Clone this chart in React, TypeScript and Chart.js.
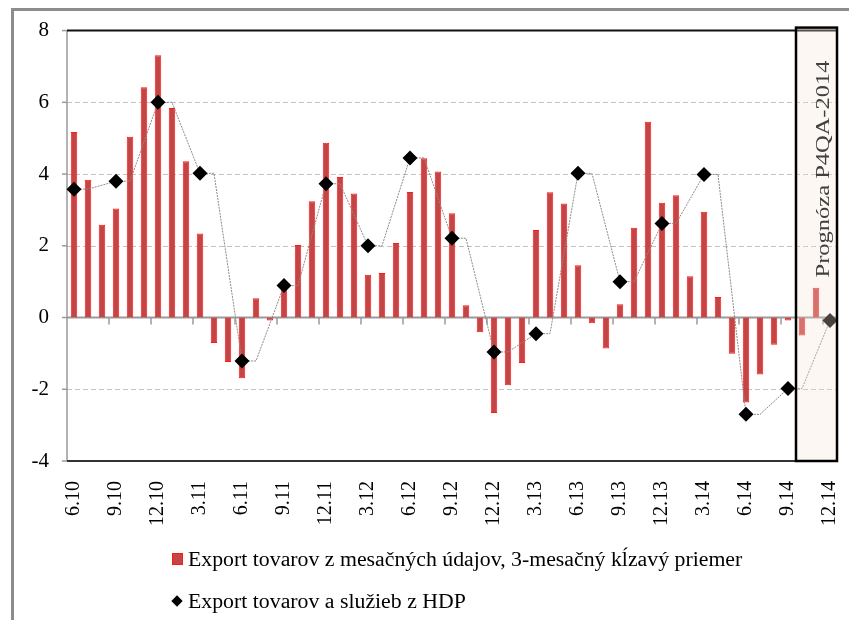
import React, { useEffect, useRef } from "react";
import { Chart, registerables } from "chart.js";

Chart.register(...registerables);

// Monthly categories 6.10 … 12.14
const months = [
  "6.10", "7.10", "8.10", "9.10", "10.10", "11.10", "12.10",
  "1.11", "2.11", "3.11", "4.11", "5.11", "6.11", "7.11", "8.11", "9.11", "10.11", "11.11", "12.11",
  "1.12", "2.12", "3.12", "4.12", "5.12", "6.12", "7.12", "8.12", "9.12", "10.12", "11.12", "12.12",
  "1.13", "2.13", "3.13", "4.13", "5.13", "6.13", "7.13", "8.13", "9.13", "10.13", "11.13", "12.13",
  "1.14", "2.14", "3.14", "4.14", "5.14", "6.14", "7.14", "8.14", "9.14", "10.14", "11.14", "12.14",
];

// Export tovarov z mesačných údajov, 3-mesačný kĺzavý priemer
const exportGoods: (number | null)[] = [
  5.17, 3.84, 2.59, 3.04, 5.04, 6.42, 7.31,
  5.84, 4.36, 2.34, -0.71, -1.24, -1.69, 0.54, -0.08, 0.8, 2.02, 3.24, 4.87,
  3.92, 3.46, 1.19, 1.24, 2.08, 3.5, 4.44, 4.07, 2.91, 0.34, -0.41, -2.66,
  -1.89, -1.27, 2.44, 3.49, 3.18, 1.46, -0.16, -0.86, 0.37, 2.5, 5.46, 3.2,
  3.41, 1.15, 2.95, 0.57, -1.01, -2.37, -1.59, -0.76, -0.08, -0.5, 0.83, null,
];

// Export tovarov a služieb z HDP (quarterly: 6.10, 9.10, … 12.14)
const exportGdp = [
  3.58, 3.8, 6.0, 4.02, -1.21, 0.89, 3.73, 2.0, 4.45, 2.21,
  -0.96, -0.45, 4.02, 1.0, 2.62, 3.99, -2.7, -1.98, -0.08,
];

const yTicks = [-4, -2, 0, 2, 4, 6, 8];
const gridValues = [-2, 2, 4, 6];
const forecastStartIndex = 52;
const forecastLabel = "Prognóza P4QA-2014";
const legendBars = "Export tovarov z mesačných údajov, 3-mesačný kĺzavý priemer";
const legendDiamonds = "Export tovarov a služieb z HDP";

const FONT = '"Liberation Serif", "Times New Roman", serif';
const BAR_FILL = "#C44545";
const BAR_BORDER = "#FF1A1A";

export default function App() {
  const ref = useRef<HTMLCanvasElement>(null);

  useEffect(() => {
    if (!ref.current) return;
    const diamonds = months.map((_, i) => (i % 3 === 0 ? exportGdp[i / 3] : null));
    const stepLine = months.map((_, i) =>
      i % 3 === 0 ? exportGdp[i / 3] : i % 3 === 1 ? exportGdp[(i - 1) / 3] ?? null : null
    );

    const decor = {
      id: "decor",
      beforeDatasetsDraw(chart: any) {
        const { ctx, chartArea: a, scales } = chart;
        const x = scales.x;
        const y = scales.y;
        const line = (x1: number, y1: number, x2: number, y2: number) => {
          ctx.beginPath();
          ctx.moveTo(x1, y1);
          ctx.lineTo(x2, y2);
          ctx.stroke();
        };
        ctx.save();
        ctx.strokeStyle = "#c2c2c2";
        ctx.lineWidth = 1;
        ctx.setLineDash([5, 3]);
        for (const v of gridValues) {
          const py = Math.round(y.getPixelForValue(v)) + 0.5;
          line(a.left, py, a.right, py);
        }
        ctx.setLineDash([]);
        ctx.strokeStyle = "#9a9a9a";
        ctx.lineWidth = 1.5;
        line(a.left, a.top, a.left, a.bottom);
        for (const v of yTicks) {
          const py = y.getPixelForValue(v);
          line(a.left - 5, py, a.left, py);
        }
        const y0 = y.getPixelForValue(0);
        ctx.lineWidth = 2;
        line(a.left, y0, a.right, y0);
        ctx.lineWidth = 1.5;
        for (let k = 3; k < months.length; k += 3) {
          const px = (x.getPixelForValue(k - 1) + x.getPixelForValue(k)) / 2;
          line(px, y0, px, y0 + 7);
        }
        ctx.strokeStyle = "#111";
        ctx.lineWidth = 2;
        line(a.left, a.top, a.right, a.top);
        ctx.strokeStyle = "#333";
        line(a.left, a.bottom, a.right, a.bottom);
        ctx.restore();
      },
      afterDatasetsDraw(chart: any) {
        const { ctx, chartArea: a, scales } = chart;
        const x = scales.x;
        const left =
          (x.getPixelForValue(forecastStartIndex - 1) + x.getPixelForValue(forecastStartIndex)) / 2 + 1;
        const top = a.top - 3;
        const right = a.right;
        const bottom = a.bottom;
        ctx.save();
        ctx.fillStyle = "rgba(245,227,210,0.29)";
        ctx.fillRect(left, top, right - left, bottom - top);
        ctx.strokeStyle = "#000";
        ctx.lineWidth = 2.5;
        ctx.strokeRect(left, top, right - left, bottom - top);
        ctx.translate(left + 28, 169);
        ctx.rotate(-Math.PI / 2);
        ctx.scale(1.36, 1);
        ctx.fillStyle = "#404040";
        ctx.font = `18px ${FONT}`;
        ctx.textAlign = "center";
        ctx.textBaseline = "middle";
        ctx.fillText(forecastLabel, 0, 0);
        ctx.restore();
      },
    };

    const chart = new Chart(ref.current, {
      type: "bar",
      data: {
        labels: months,
        datasets: [
          {
            type: "line",
            label: legendDiamonds,
            data: diamonds,
            showLine: false,
            pointStyle: "rectRot",
            pointRadius: 7.5,
            pointHoverRadius: 7.5,
            pointBackgroundColor: "#000",
            pointBorderColor: "#000",
            pointBorderWidth: 0,
          } as any,
          {
            type: "line",
            label: "line",
            data: stepLine,
            spanGaps: true,
            borderColor: "#8a8a8a",
            borderWidth: 1,
            borderDash: [2, 1],
            pointRadius: 0,
            tension: 0,
          } as any,
          {
            type: "bar",
            label: legendBars,
            data: exportGoods,
            backgroundColor: BAR_FILL,
            borderColor: BAR_BORDER,
            borderWidth: 1,
            barPercentage: 0.46,
            categoryPercentage: 1,
          } as any,
        ],
      },
      options: {
        responsive: false,
        animation: false,
        devicePixelRatio: 1,
        layout: { padding: { top: 29, right: 12, left: 0, bottom: 0 } },
        plugins: {
          legend: { display: false },
          tooltip: { enabled: false },
        },
        scales: {
          x: {
            grid: { display: false, drawTicks: false },
            border: { display: false },
            ticks: {
              autoSkip: false,
              minRotation: 90,
              maxRotation: 90,
              padding: 20,
              color: "#000",
              font: { family: FONT, size: 20 },
              callback: (_v: any, i: number) => (i % 3 === 0 ? months[i] : ""),
            },
            afterFit: (s: any) => {
              s.height = 159;
              s.paddingLeft = 0;
              s.paddingRight = 0;
            },
          },
          y: {
            min: -4,
            max: 8,
            grid: { display: false, drawTicks: false },
            border: { display: false },
            ticks: {
              stepSize: 2,
              padding: 18,
              color: "#000",
              font: { family: FONT, size: 21 },
            },
            afterFit: (s: any) => {
              s.width = 67;
            },
          },
        },
      },
      plugins: [decor],
    });
    return () => chart.destroy();
  }, []);

  const legendText: React.CSSProperties = {
    position: "absolute",
    left: 188,
    fontFamily: FONT,
    fontSize: 20,
    lineHeight: "26px",
    whiteSpace: "nowrap",
    color: "#000",
    transform: "scaleX(1.09)",
    transformOrigin: "left center",
  };

  return (
    <div style={{ position: "absolute", left: 0, top: 0, width: 849, height: 620, overflow: "hidden", background: "#fff" }}>
      <div
        style={{
          position: "absolute",
          left: 11,
          top: 8,
          width: 860,
          height: 640,
          borderLeft: "3px solid #8c8c8c",
          borderTop: "3px solid #8c8c8c",
        }}
      />
      <canvas ref={ref} width={849} height={620} style={{ position: "absolute", left: 0, top: 0 }} />
      <div
        style={{
          position: "absolute",
          left: 172,
          top: 553,
          width: 9,
          height: 10,
          background: BAR_FILL,
          border: `1px solid ${BAR_BORDER}`,
        }}
      />
      <div style={{ ...legendText, top: 546 }}>{legendBars}</div>
      <div
        style={{
          position: "absolute",
          left: 173,
          top: 597,
          width: 8,
          height: 8,
          background: "#000",
          transform: "rotate(45deg)",
        }}
      />
      <div style={{ ...legendText, top: 588 }}>{legendDiamonds}</div>
    </div>
  );
}
